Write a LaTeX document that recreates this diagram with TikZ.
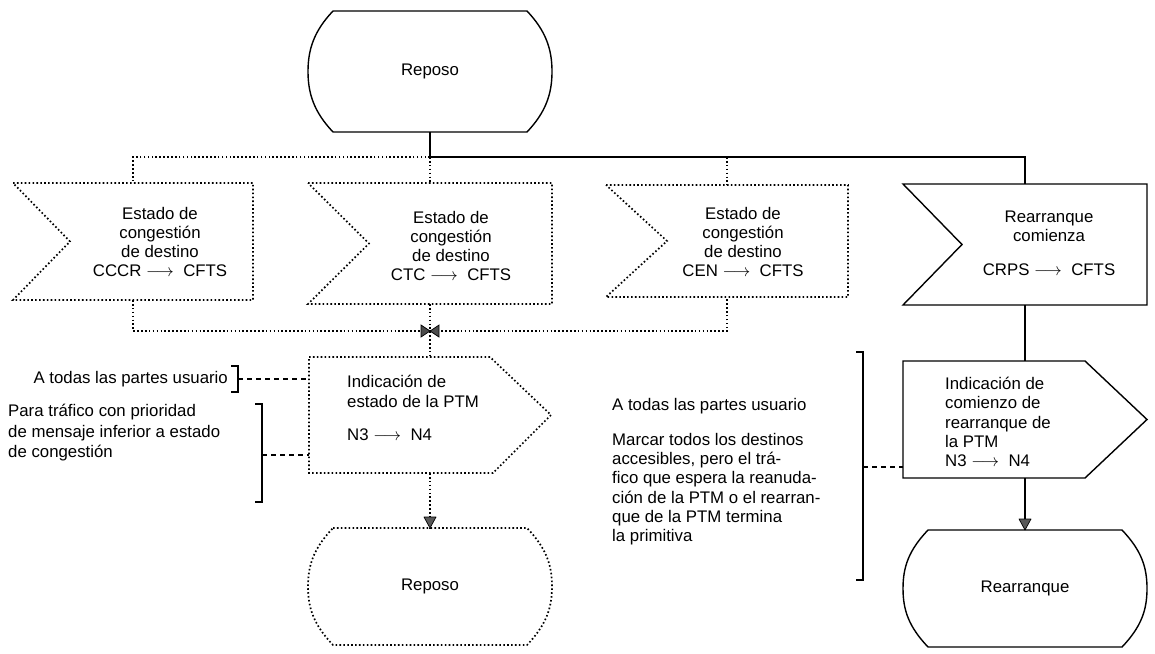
\documentclass[tikz,border=0pt]{standalone}
\usepackage{fontspec}
\setmainfont{Liberation Sans}
\usetikzlibrary{calc}
\begin{document}
\begin{tikzpicture}[x=1pt,y=-1pt,
  solidln/.style={line width=1.4pt, line join=miter},
  dotln/.style={line width=1.7pt, dash pattern=on 1.6pt off 2.3pt},
  box/.style={draw=none, inner sep=0pt, outer sep=0pt},
  txt/.style={font=\fontsize{16.8}{19.3}\selectfont, align=center, inner sep=0pt},
  ltxt/.style={txt, align=left},
  brk/.style={line width=1.7pt},
  dashln/.style={line width=1.4pt, dash pattern=on 5pt off 4pt},
  tipfill/.style={fill=black!65, draw=black, line width=0.7pt, line join=round}]

\useasboundingbox (0,0) rectangle (1155,653);

% ---------- shape boxes ----------
\node[box, minimum width=244pt, minimum height=121pt] (rep1) at (430,71.5) {};
\node[box, minimum width=240pt, minimum height=117pt] (f1) at (133,241.5) {};
\node[box, minimum width=244pt, minimum height=121pt] (f2) at (430,243.5) {};
\node[box, minimum width=242pt, minimum height=112pt] (f3) at (727,241) {};
\node[box, minimum width=244pt, minimum height=121pt] (f4) at (1025,244.5) {};
\node[box, minimum width=242pt, minimum height=116pt] (o1) at (430,415) {};
\node[box, minimum width=244pt, minimum height=117pt] (o2) at (1025,419.5) {};
\node[box, minimum width=244pt, minimum height=117pt] (rep2) at (430,586.5) {};
\node[box, minimum width=244pt, minimum height=117pt] (rep3) at (1025,588.5) {};

% ---------- state shapes ----------
\draw[solidln] ($(rep1.north west)+(25,0)$) -- ($(rep1.north east)+(-25,0)$)
  .. controls ($(rep1.north east)+(-6,20)$) and ($(rep1.east)+(0,-22)$) .. (rep1.east)
  .. controls ($(rep1.east)+(0,22)$) and ($(rep1.south east)+(-6,-20)$) .. ($(rep1.south east)+(-25,0)$)
  -- ($(rep1.south west)+(25,0)$)
  .. controls ($(rep1.south west)+(6,-20)$) and ($(rep1.west)+(0,22)$) .. (rep1.west)
  .. controls ($(rep1.west)+(0,-22)$) and ($(rep1.north west)+(6,20)$) .. cycle;
\draw[dotln] ($(rep2.north west)+(25,0)$) -- ($(rep2.north east)+(-25,0)$)
  .. controls ($(rep2.north east)+(-6,20)$) and ($(rep2.east)+(0,-22)$) .. (rep2.east)
  .. controls ($(rep2.east)+(0,22)$) and ($(rep2.south east)+(-6,-20)$) .. ($(rep2.south east)+(-25,0)$)
  -- ($(rep2.south west)+(25,0)$)
  .. controls ($(rep2.south west)+(6,-20)$) and ($(rep2.west)+(0,22)$) .. (rep2.west)
  .. controls ($(rep2.west)+(0,-22)$) and ($(rep2.north west)+(6,20)$) .. cycle;
\draw[solidln] ($(rep3.north west)+(25,0)$) -- ($(rep3.north east)+(-25,0)$)
  .. controls ($(rep3.north east)+(-6,20)$) and ($(rep3.east)+(0,-22)$) .. (rep3.east)
  .. controls ($(rep3.east)+(0,22)$) and ($(rep3.south east)+(-6,-20)$) .. ($(rep3.south east)+(-25,0)$)
  -- ($(rep3.south west)+(25,0)$)
  .. controls ($(rep3.south west)+(6,-20)$) and ($(rep3.west)+(0,22)$) .. (rep3.west)
  .. controls ($(rep3.west)+(0,-22)$) and ($(rep3.north west)+(6,20)$) .. cycle;

% ---------- input (flag) shapes ----------
\draw[dotln] (f1.north west) -- (f1.north east) -- (f1.south east) -- (f1.south west) -- ($(f1.west)+(57,0)$) -- cycle;
\draw[dotln] (f2.north west) -- (f2.north east) -- (f2.south east) -- (f2.south west) -- ($(f2.west)+(61,0)$) -- cycle;
\draw[dotln] (f3.north west) -- (f3.north east) -- (f3.south east) -- (f3.south west) -- ($(f3.west)+(61,0)$) -- cycle;
\draw[solidln] (f4.north west) -- (f4.north east) -- (f4.south east) -- (f4.south west) -- ($(f4.west)+(59,0)$) -- cycle;

% ---------- output shapes ----------
\draw[dotln] (o1.north west) -- ($(o1.north east)+(-61,0)$) -- (o1.east) -- ($(o1.south east)+(-58,0)$) -- (o1.south west) -- cycle;
\draw[solidln] (o2.north west) -- ($(o2.north east)+(-62,0)$) -- (o2.east) -- ($(o2.south east)+(-62,0)$) -- (o2.south west) -- cycle;

% ---------- texts ----------
\node[txt] (t0) at (rep1.center) {Reposo};
\node[txt] (t1) at (160,242) {Estado de\\congestión\\de destino\\CCCR $\longrightarrow$\ \ CFTS};
\node[txt] (t2) at (451,246) {Estado de\\congestión\\de destino\\CTC $\longrightarrow$\ \ CFTS};
\node[txt] (t3) at (743,242) {Estado de\\congestión\\de destino\\CEN $\longrightarrow$\ \ CFTS};
\node[txt] (t4) at (1049,243) {Rearranque\\comienza\\[14pt]CRPS $\longrightarrow$\ \ CFTS};
\node[ltxt, anchor=west] (t5) at (347,408) {Indicación de\\estado de la PTM\\[14pt]N3 $\longrightarrow$\ \ N4};
\node[ltxt, anchor=west] (t6) at (945,422) {Indicación de\\comienzo de\\rearranque de\\la PTM\\N3 $\longrightarrow$\ \ N4};
\node[txt] (t7) at (rep2.center) {Reposo};
\node[txt] (t8) at (rep3.center) {Rearranque};

% ---------- connectors ----------
\coordinate (j1) at ($(rep1.south)+(0,25)$);
\draw[solidln] (rep1.south) -- (j1) -| (f4.north);
\draw[dotln] (j1) -| (f1.north);
\draw[dotln] (j1) -- (f2.north);
\draw[dotln] (f3.north |- j1) -- (f3.north);

\coordinate (m) at (430,331);
\draw[dotln] (f1.south) |- (m) -| (f3.south);
\draw[dotln] (f2.south) -- (m) -- (o1.north);
\fill[black!70, draw=black, line width=0.7pt] ($(m)+(-9,-6)$) -- ($(m)+(9,6)$) -- ($(m)+(9,-6)$) -- ($(m)+(-9,6)$) -- cycle;

\draw[dotln] (o1.south) -- (rep2.north);
\filldraw[tipfill] (rep2.north) -- ++(-6,-11) -- ++(12,0) -- cycle;

\draw[solidln] (f4.south) -- (o2.north);
\draw[solidln] (o2.south) -- (rep3.north);
\filldraw[tipfill] (rep3.north) -- ++(-6,-11) -- ++(12,0) -- cycle;

% ---------- annotations ----------
\node[txt, anchor=east] (a1) at (228,379) {A todas las partes usuario};
\coordinate (b1) at (238,379);
\draw[brk] (231,366) -- (238,366) -- (238,392) -- (231,392);
\draw[dashln] (b1) -- (b1 -| o1.west);

\node[ltxt, anchor=west, font=\fontsize{16.8}{20.5}\selectfont] (a2) at (8,433) {Para tráfico con prioridad\\de mensaje inferior a estado\\de congestión};
\coordinate (b2) at (262,455);
\draw[brk] (255,404) -- (262,404) -- (262,502) -- (255,502);
\draw[dashln] (b2) -- (b2 -| o1.west);

\node[ltxt, anchor=west] (a3) at (612,406) {A todas las partes usuario};
\node[ltxt, anchor=west] (a4) at (612,489) {Marcar todos los destinos\\accesibles, pero el trá-\\fico que espera la reanuda-\\ción de la PTM o el rearran-\\que de la PTM termina\\la primitiva};
\coordinate (b3) at (863,467);
\draw[brk] (856,352) -- (863,352) -- (863,580) -- (856,580);
\draw[dashln] (b3) -- (b3 -| o2.west);

\end{tikzpicture}
\end{document}
